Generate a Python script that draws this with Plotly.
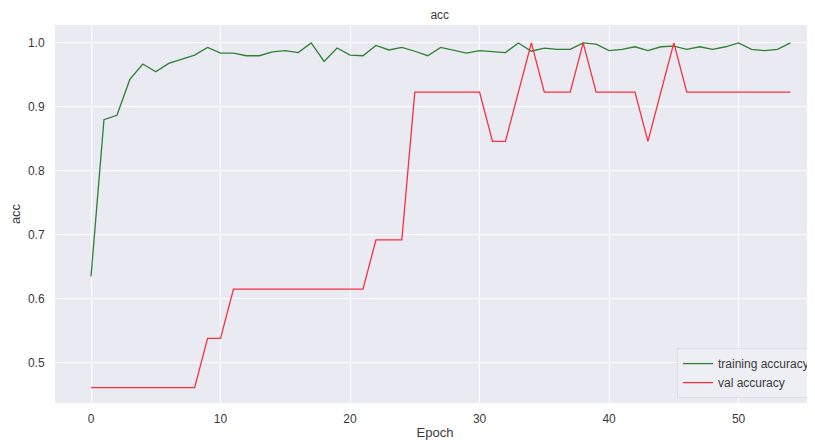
import plotly.graph_objects as go

epochs = list(range(55))
train_acc = [0.635, 0.880, 0.887, 0.943, 0.967, 0.955, 0.968, 0.974, 0.981, 0.993,
             0.984, 0.984, 0.980, 0.980, 0.986, 0.988, 0.985, 1.000, 0.971, 0.992,
             0.981, 0.980, 0.996, 0.989, 0.993, 0.987, 0.980, 0.993, 0.988, 0.984,
             0.988, 0.987, 0.985, 1.000, 0.987, 0.992, 0.990, 0.990, 1.000, 0.998,
             0.988, 0.990, 0.994, 0.988, 0.994, 0.995, 0.990, 0.994, 0.990, 0.994,
             1.000, 0.990, 0.988, 0.990, 1.000]
val_acc = [0.4615, 0.4615, 0.4615, 0.4615, 0.4615, 0.4615, 0.4615, 0.4615, 0.4615, 0.5385,
           0.5385, 0.6154, 0.6154, 0.6154, 0.6154, 0.6154, 0.6154, 0.6154, 0.6154, 0.6154,
           0.6154, 0.6154, 0.6923, 0.6923, 0.6923, 0.9231, 0.9231, 0.9231, 0.9231, 0.9231,
           0.9231, 0.8462, 0.8462, 0.9231, 1.0000, 0.9231, 0.9231, 0.9231, 1.0000, 0.9231,
           0.9231, 0.9231, 0.9231, 0.8462, 0.9231, 1.0000, 0.9231, 0.9231, 0.9231, 0.9231,
           0.9231, 0.9231, 0.9231, 0.9231, 0.9231]
x_ticks = [0, 10, 20, 30, 40, 50]
y_ticks = [0.5, 0.6, 0.7, 0.8, 0.9, 1.0]

font_family = "Liberation Sans, Arial, sans-serif"
text_color = "#3a3a3a"

fig = go.Figure()
fig.add_trace(go.Scatter(x=epochs, y=train_acc, mode="lines", name="training accuracy",
                         line=dict(color="#2f8030", width=1.3)))
fig.add_trace(go.Scatter(x=epochs, y=val_acc, mode="lines", name="val accuracy",
                         line=dict(color="#f5303f", width=1.3)))

# The page body has an 8px margin, so the figure is sized to fit the 815x443 window.
fig.update_layout(
    width=807, height=435,
    margin=dict(l=47, r=0, t=17, b=40),
    paper_bgcolor="white",
    plot_bgcolor="#EAEAF2",
    font=dict(family=font_family, size=12, color=text_color),
    title=dict(text="acc", x=0.535, xanchor="center", y=0.984, yanchor="middle",
               font=dict(size=12, color=text_color)),
    showlegend=True,
    legend=dict(x=1.0, y=0.013, xanchor="right", yanchor="bottom",
                bgcolor="rgba(238,238,245,0.9)", bordercolor="#dedee8", borderwidth=1,
                font=dict(size=12, color=text_color), tracegroupgap=0,
                itemwidth=30),
)
fig.update_xaxes(range=[-2.78, 55.9], tickvals=x_ticks, showgrid=True,
                 gridcolor="white", gridwidth=1, zeroline=False, showline=False,
                 ticks="outside", ticklen=5, tickcolor="rgba(0,0,0,0)",
                 title=dict(text="Epoch", standoff=2, font=dict(size=13, color=text_color)))
fig.update_yaxes(range=[0.4375, 1.028], tickvals=y_ticks, tickformat=".1f", showgrid=True,
                 gridcolor="white", gridwidth=1, zeroline=False, showline=False,
                 ticks="outside", ticklen=7, tickcolor="rgba(0,0,0,0)",
                 title=dict(text="acc", standoff=6, font=dict(size=13, color=text_color)))

fig.write_html("out.html")
